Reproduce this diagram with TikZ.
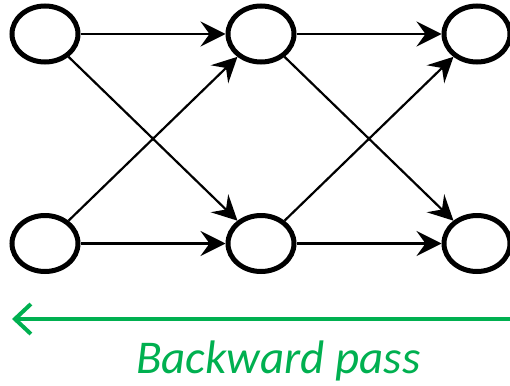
\documentclass[tikz,border=0pt]{standalone}
\usepackage{fontspec}
\setmainfont{Carlito}
\usetikzlibrary{
  shapes.geometric,
  positioning,
  arrows.meta
}
\definecolor{passgreen}{RGB}{0,176,80}

\begin{document}
\begin{tikzpicture}[x = 1pt, y = -1pt, node distance = 148.5pt and 145pt,
    unit/.style = {ellipse, draw, line width = 5pt, minimum width = 66pt,
                   minimum height = 56pt, inner sep = 0pt},
    link/.style = {line width = 2.2pt, -{Stealth[length = 25pt, width = 25pt, inset = 9pt]}},
    back/.style = {passgreen, line width = 4pt, -{Straight Barb[length = 16pt, width = 30pt]}}]
    \useasboundingbox (0,0) rectangle (510,385);

    \node[unit] (a1) at (45,34) {};
    \node[unit, right = of a1] (a2) {};
    \node[unit, right = of a2] (a3) {};
    \node[unit, below = of a1] (b1) {};
    \node[unit, right = of b1] (b2) {};
    \node[unit, right = of b2] (b3) {};

    \draw[link] (a1) edge (a2) edge (b2);
    \draw[link] (b1) edge (b2) edge (a2);
    \draw[link] (a2) edge (a3) edge (b3);
    \draw[link] (b2) edge (b3) edge (a3);

    % backward pass
    \coordinate (gs) at (512,319);
    \coordinate (ge) at (12,319);
    \draw[back] (gs) -- (ge);
    \node[passgreen, anchor = base west, inner sep = 0pt, font = \fontsize{47}{53}\selectfont\itshape]
      (pass) at (136,373) {Backward pass};
\end{tikzpicture}
\end{document}
